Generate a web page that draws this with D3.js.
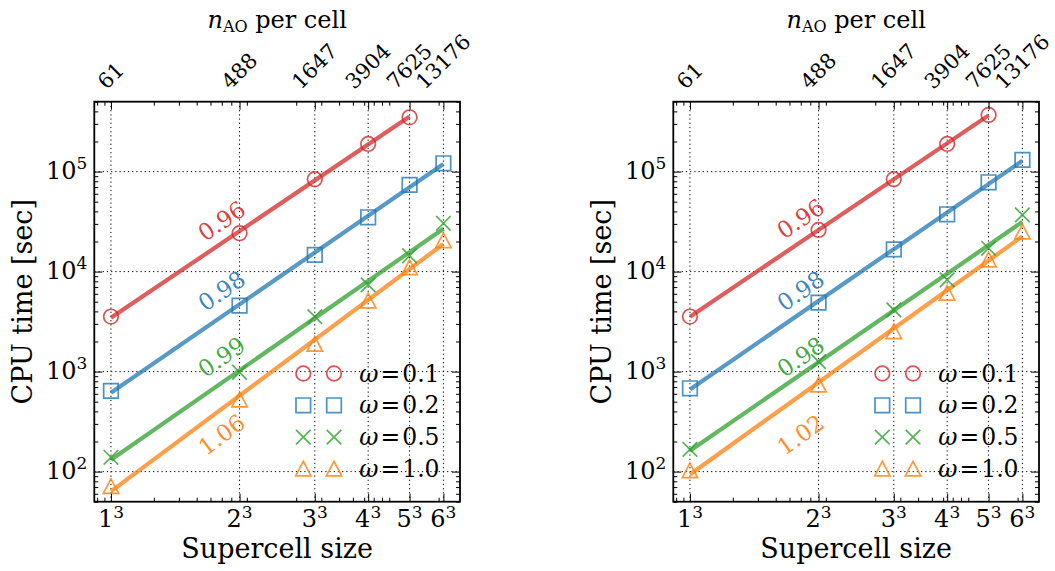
<!DOCTYPE html>
<html>
<head>
<meta charset="utf-8">
<script src="https://cdn.jsdelivr.net/npm/d3@7"></script>
<style>
  body { margin: 0; background: #fff; }
</style>
</head>
<body>
<svg id="fig" width="1055" height="571" font-family="DejaVu Serif"></svg>
<script>
// Supercell sizes (N^3) and the corresponding number of AOs per cell
const cellEdge = ["1", "2", "3", "4", "5", "6"];
const supercell = [1, 8, 27, 64, 125, 216];
const nAOperCell = ["61", "488", "1647", "3904", "7625", "13176"];
const omegaLabels = ["0.1", "0.2", "0.5", "1.0"];
const yDecades = [1e2, 1e3, 1e4, 1e5];

// Left panel: CPU time [sec] per omega
const leftW01 = [3550, 24200, 83800, 189000, 349000];
const leftW02 = [641, 4570, 14700, 34900, 73600, 121000];
const leftW05 = [139, 985, 3550, 7360, 14400, 30400];
const leftW10 = [71, 521, 1880, 5090, 10960, 20400];
const leftSlopes = [0.96, 0.98, 0.99, 1.06];
const leftSlopeLabelY = [32100, 6400, 1400, 233];

// Right panel: CPU time [sec] per omega
const rightW01 = [3550, 26100, 83800, 189000, 369000];
const rightW02 = [681, 4900, 16700, 37400, 78200, 131000];
const rightW05 = [167, 1259, 4140, 8260, 17100, 36900];
const rightW10 = [102, 736, 2510, 6070, 13100, 24900];
const rightSlopes = [0.96, 0.98, 0.98, 1.02];
const rightSlopeLabelY = [33700, 6400, 1400, 233];

const slopeLabelX = 6;

const colors = ["#d62728", "#1f77b4", "#2ca02c", "#ff7f0e"];
const markerTypes = ["circle", "square", "cross", "triangle"];

const W = 365.7, H = 400, TOP = 101.7;
const panels = [
  { x0: 94.3, series: [leftW01, leftW02, leftW05, leftW10], slopes: leftSlopes, labelY: leftSlopeLabelY },
  { x0: 673.3, series: [rightW01, rightW02, rightW05, rightW10], slopes: rightSlopes, labelY: rightSlopeLabelY }
];

const x = d3.scaleLog().domain([0.764, 282.5]).range([0, W]);
const y = d3.scaleLog().domain([50, 5e5]).range([H, 0]);

// log minor ticks (2..9 x 10^k) inside each domain
function minorTicks(scale, exclude) {
  const [a, b] = scale.domain();
  const out = [];
  for (let k = -2; k <= 6; k++) {
    for (let m = 2; m <= 9; m++) {
      const v = m * Math.pow(10, k);
      if (v >= a && v <= b && !exclude.some(e => Math.abs(e - v) / v < 1e-6)) out.push(v);
    }
  }
  return out;
}
const xMinor = minorTicks(x, supercell);
const yMinor = minorTicks(y, yDecades);

function markerPath(type, s) {
  switch (type) {
    case "circle":
      return `M${s},0A${s},${s} 0 1,1 ${-s},0A${s},${s} 0 1,1 ${s},0Z`;
    case "square":
      return `M${-s},${-s}H${s}V${s}H${-s}Z`;
    case "cross":
      return `M${-s},${-s}L${s},${s}M${-s},${s}L${s},${-s}`;
    case "triangle":
      return `M0,${-s * 1.05}L${s * 1.05},${s * 0.95}L${-s * 1.05},${s * 0.95}Z`;
  }
}

const svg = d3.select("#fig");

panels.forEach(p => {
  const g = svg.append("g").attr("transform", `translate(${p.x0},${TOP})`);

  // dotted grid at the major ticks
  const grid = g.append("g").attr("stroke", "#000").attr("stroke-width", 1)
    .attr("stroke-dasharray", "1.2,3").attr("fill", "none");
  grid.selectAll("line.gx").data(supercell).join("line")
    .attr("x1", d => x(d)).attr("x2", d => x(d)).attr("y1", 0).attr("y2", H);
  grid.selectAll("line.gy").data(yDecades).join("line")
    .attr("y1", d => y(d)).attr("y2", d => y(d)).attr("x1", 0).attr("x2", W);

  // power-law fits with the stated exponents
  const line = d3.line().x(d => x(d[0])).y(d => y(d[1]));
  p.series.forEach((vals, i) => {
    const s = p.slopes[i];
    const xs = supercell.slice(0, vals.length);
    const a = d3.mean(vals, (v, j) => Math.log10(v) - s * Math.log10(xs[j]));
    const ends = [xs[0], xs[xs.length - 1]].map(xx => [xx, Math.pow(10, a + s * Math.log10(xx))]);
    g.append("path").datum(ends).attr("d", line)
      .attr("fill", "none").attr("stroke", colors[i]).attr("stroke-opacity", 0.75)
      .attr("stroke-width", 4.2);
  });

  // data markers
  p.series.forEach((vals, i) => {
    g.append("g").selectAll("path").data(vals).join("path")
      .attr("transform", (v, j) => `translate(${x(supercell[j])},${y(v)})`)
      .attr("d", markerPath(markerTypes[i], 7.3))
      .attr("fill", "none").attr("stroke", colors[i]).attr("stroke-opacity", 0.8)
      .attr("stroke-width", 1.7);
  });

  // exponent labels along the fits
  const decX = x(10) - x(1), decY = y(1) - y(10);
  p.slopes.forEach((s, i) => {
    const ang = Math.atan(s * decY / decX) * 180 / Math.PI;
    const cx = x(slopeLabelX), cy = y(p.labelY[i]);
    g.append("text").attr("x", cx).attr("y", cy)
      .attr("transform", `rotate(${-ang},${cx},${cy})`)
      .attr("text-anchor", "middle").attr("dominant-baseline", "central")
      .attr("font-size", 23).attr("fill", colors[i]).attr("fill-opacity", 0.9)
      .text(s.toFixed(2));
  });

  // legend: two markers per entry
  const leg = g.append("g").attr("transform", `translate(209,271.8)`);
  omegaLabels.forEach((lab, i) => {
    const row = leg.append("g").attr("transform", `translate(0,${i * 31.8})`);
    [0, 30.7].forEach(dx => {
      row.append("path").attr("transform", `translate(${dx},0)`)
        .attr("d", markerPath(markerTypes[i], 7.3))
        .attr("fill", "none").attr("stroke", colors[i]).attr("stroke-opacity", 0.8)
        .attr("stroke-width", 1.7);
    });
    const t = row.append("text").attr("x", 56).attr("y", 8).attr("font-size", 23.5).attr("fill", "#000");
    t.append("tspan").attr("font-style", "italic").text("ω");
    t.append("tspan").attr("dx", 2).text("=");
    t.append("tspan").attr("dx", 2).text(lab);
  });

  // axes (inward ticks on all four sides)
  const tickStyle = sel => {
    sel.select(".domain").remove();
    sel.attr("font-family", null);
    sel.selectAll(".tick line").attr("stroke", "#000").attr("stroke-width", 1);
  };
  g.append("g").attr("transform", `translate(0,${H})`)
    .call(d3.axisBottom(x).tickValues(supercell).tickSize(-8).tickFormat(""))
    .call(tickStyle);
  g.append("g").attr("transform", `translate(0,${H})`)
    .call(d3.axisBottom(x).tickValues(xMinor).tickSize(-4).tickFormat(""))
    .call(tickStyle);
  g.append("g")
    .call(d3.axisTop(x).tickValues(supercell).tickSize(-8).tickFormat(""))
    .call(tickStyle);
  g.append("g")
    .call(d3.axisTop(x).tickValues(xMinor).tickSize(-4).tickFormat(""))
    .call(tickStyle);
  g.append("g")
    .call(d3.axisLeft(y).tickValues(yDecades).tickSize(-8).tickFormat(""))
    .call(tickStyle);
  g.append("g")
    .call(d3.axisLeft(y).tickValues(yMinor).tickSize(-4).tickFormat(""))
    .call(tickStyle);
  g.append("g").attr("transform", `translate(${W},0)`)
    .call(d3.axisRight(y).tickValues(yDecades).tickSize(-8).tickFormat(""))
    .call(tickStyle);
  g.append("g").attr("transform", `translate(${W},0)`)
    .call(d3.axisRight(y).tickValues(yMinor).tickSize(-4).tickFormat(""))
    .call(tickStyle);

  // frame
  g.append("rect").attr("width", W).attr("height", H)
    .attr("fill", "none").attr("stroke", "#000").attr("stroke-width", 1.8);

  // bottom tick labels N^3
  supercell.forEach((v, i) => {
    const t = g.append("text").attr("x", x(v)).attr("y", H + 25.5)
      .attr("text-anchor", "middle").attr("font-size", 24).attr("fill", "#000");
    t.append("tspan").text(cellEdge[i]);
    t.append("tspan").attr("dy", -9).attr("font-size", 17).text("3");
  });

  // left tick labels 10^k
  yDecades.forEach(v => {
    const t = g.append("text").attr("x", -7).attr("y", y(v) + 7.8)
      .attr("text-anchor", "end").attr("font-size", 24).attr("fill", "#000");
    t.append("tspan").text("10");
    t.append("tspan").attr("dy", -10).attr("font-size", 17).text(Math.round(Math.log10(v)));
  });

  // top tick labels: AOs per cell, rotated 45 degrees
  supercell.forEach((v, i) => {
    const t = g.append("text").attr("font-size", 21).attr("fill", "#000")
      .attr("text-anchor", "middle").attr("dominant-baseline", "central")
      .text(nAOperCell[i]);
    const L = t.node().getComputedTextLength();
    const h = 0.73 * 21;
    const cx = x(v), cy = -11 - (L + h) / (2 * Math.SQRT2);
    t.attr("x", cx).attr("y", cy).attr("transform", `rotate(-45,${cx},${cy})`);
  });

  // axis titles
  g.append("text").attr("x", W / 2).attr("y", H + 56.5)
    .attr("text-anchor", "middle").attr("font-size", 27).attr("fill", "#000")
    .text("Supercell size");
  g.append("text").attr("transform", `translate(-62.5,${H / 2}) rotate(-90)`)
    .attr("text-anchor", "middle").attr("font-size", 27).attr("fill", "#000")
    .text("CPU time [sec]");
  const tt = g.append("text").attr("x", W / 2).attr("y", -73.7)
    .attr("text-anchor", "middle").attr("font-size", 24).attr("fill", "#000");
  tt.append("tspan").attr("font-style", "italic").text("n");
  tt.append("tspan").attr("dy", 4).attr("font-size", 16).text("AO");
  tt.append("tspan").attr("dy", -4).text(" per cell");
});
</script>
</body>
</html>
